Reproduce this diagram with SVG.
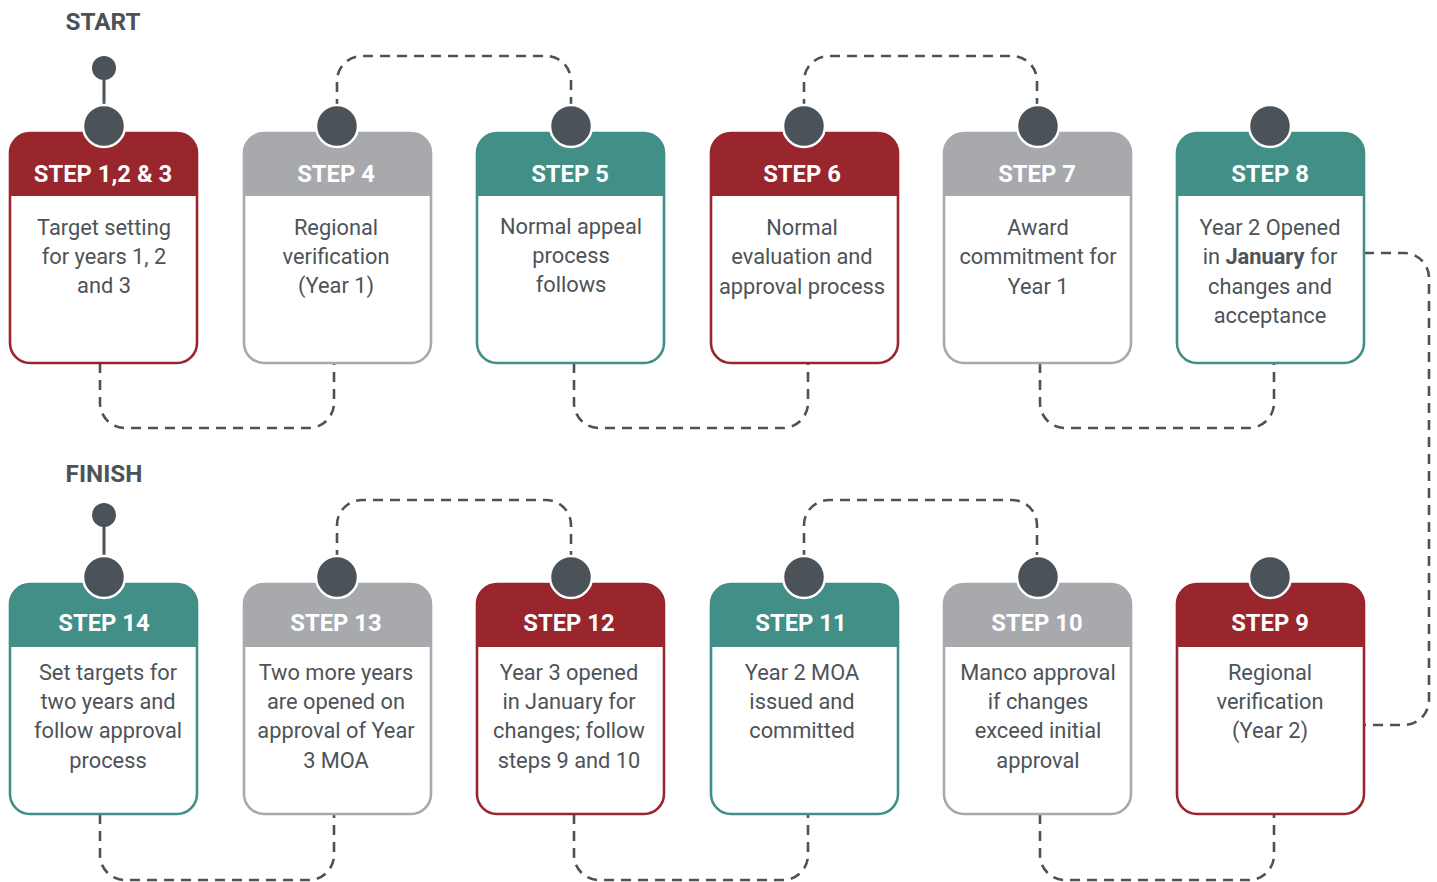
<svg xmlns="http://www.w3.org/2000/svg" width="1437" height="882" viewBox="0 0 1437 882">
<style>
.bg{fill:#ffffff}
.conn{fill:none;stroke:#4b5359;stroke-width:2.6;stroke-dasharray:10 7}
.pin{fill:#4b5359;stroke:#ffffff;stroke-width:2.5}
.dot{fill:#4b5359}
.stem{stroke:#4b5359;stroke-width:3}
.frame{fill:#ffffff;stroke-width:2.6}
.red .frame{stroke:#99252d}.red .hdr{fill:#99252d}
.grey .frame{stroke:#a8a9ac}.grey .hdr{fill:#a8a9ac}
.teal .frame{stroke:#418f86}.teal .hdr{fill:#418f86}
.ht{font-family:Roboto,"Liberation Sans",sans-serif;font-weight:700;font-size:23.8px;fill:#ffffff;text-anchor:middle}
.bt{font-family:Roboto,"Liberation Sans",sans-serif;font-size:21.8px;fill:#4d5358;text-anchor:middle}
.lbl{font-family:Roboto,"Liberation Sans",sans-serif;font-weight:700;font-size:24.3px;fill:#4b5359;text-anchor:middle}
</style>
<rect class="bg" x="0" y="0" width="1437" height="882"/>
<g id="connectors">
<path class="conn" d="M100,363 V403 A25 25 0 0 0 125,428 H309 A25 25 0 0 0 334,403 V363"/>
<path class="conn" d="M337,126 V81 A25 25 0 0 1 362,56 H546 A25 25 0 0 1 571,81 V126"/>
<path class="conn" d="M574,363 V403 A25 25 0 0 0 599,428 H783 A25 25 0 0 0 808,403 V363"/>
<path class="conn" d="M804,126 V81 A25 25 0 0 1 829,56 H1012 A25 25 0 0 1 1037,81 V126"/>
<path class="conn" d="M1040,363 V403 A25 25 0 0 0 1065,428 H1249 A25 25 0 0 0 1274,403 V363"/>
<path class="conn" d="M1364,253 H1404 A25 25 0 0 1 1429,278 V700 A25 25 0 0 1 1404,725 H1364"/>
<path class="conn" d="M100,814 V855 A25 25 0 0 0 125,880 H309 A25 25 0 0 0 334,855 V814"/>
<path class="conn" d="M337,577 V525 A25 25 0 0 1 362,500 H546 A25 25 0 0 1 571,525 V577"/>
<path class="conn" d="M574,814 V855 A25 25 0 0 0 599,880 H783 A25 25 0 0 0 808,855 V814"/>
<path class="conn" d="M804,577 V525 A25 25 0 0 1 829,500 H1012 A25 25 0 0 1 1037,525 V577"/>
<path class="conn" d="M1040,814 V855 A25 25 0 0 0 1065,880 H1249 A25 25 0 0 0 1274,855 V814"/>
</g>
<g id="start">
<text class="lbl" x="103" y="30">START</text>
<line class="stem" x1="104" y1="68" x2="104" y2="110"/>
<circle class="dot" cx="104" cy="68" r="12"/>
</g>
<g id="finish">
<text class="lbl" x="104" y="482">FINISH</text>
<line class="stem" x1="104" y1="515" x2="104" y2="560"/>
<circle class="dot" cx="104" cy="515" r="12"/>
</g>
<g id="step1" class="red">
<rect class="frame" x="10" y="133" width="187" height="230" rx="20"/>
<path class="hdr" d="M10,196 V153 A20 20 0 0 1 30,133 H177 A20 20 0 0 1 197,153 V196 Z"/>
<circle class="pin" cx="104" cy="126" r="21"/>
<text class="ht" x="103" y="182">STEP 1,2 &amp; 3</text>
<text class="bt" x="104" y="235">Target setting</text>
<text class="bt" x="104" y="264">for years 1, 2</text>
<text class="bt" x="104" y="293">and 3</text>
</g>
<g id="step4" class="grey">
<rect class="frame" x="244" y="133" width="187" height="230" rx="20"/>
<path class="hdr" d="M244,196 V153 A20 20 0 0 1 264,133 H411 A20 20 0 0 1 431,153 V196 Z"/>
<circle class="pin" cx="337" cy="126" r="21"/>
<text class="ht" x="336" y="182">STEP 4</text>
<text class="bt" x="336" y="235">Regional</text>
<text class="bt" x="336" y="264">verification</text>
<text class="bt" x="336" y="293">(Year 1)</text>
</g>
<g id="step5" class="teal">
<rect class="frame" x="477" y="133" width="187" height="230" rx="20"/>
<path class="hdr" d="M477,196 V153 A20 20 0 0 1 497,133 H644 A20 20 0 0 1 664,153 V196 Z"/>
<circle class="pin" cx="571" cy="126" r="21"/>
<text class="ht" x="570" y="182">STEP 5</text>
<text class="bt" x="571" y="234">Normal appeal</text>
<text class="bt" x="571" y="263">process</text>
<text class="bt" x="571" y="292">follows</text>
</g>
<g id="step6" class="red">
<rect class="frame" x="711" y="133" width="187" height="230" rx="20"/>
<path class="hdr" d="M711,196 V153 A20 20 0 0 1 731,133 H878 A20 20 0 0 1 898,153 V196 Z"/>
<circle class="pin" cx="804" cy="126" r="21"/>
<text class="ht" x="802" y="182">STEP 6</text>
<text class="bt" x="802" y="235">Normal</text>
<text class="bt" x="802" y="264">evaluation and</text>
<text class="bt" x="802" y="294">approval process</text>
</g>
<g id="step7" class="grey">
<rect class="frame" x="944" y="133" width="187" height="230" rx="20"/>
<path class="hdr" d="M944,196 V153 A20 20 0 0 1 964,133 H1111 A20 20 0 0 1 1131,153 V196 Z"/>
<circle class="pin" cx="1038" cy="126" r="21"/>
<text class="ht" x="1037" y="182">STEP 7</text>
<text class="bt" x="1038" y="235">Award</text>
<text class="bt" x="1038" y="264">commitment for</text>
<text class="bt" x="1038" y="294">Year 1</text>
</g>
<g id="step8" class="teal">
<rect class="frame" x="1177" y="133" width="187" height="230" rx="20"/>
<path class="hdr" d="M1177,196 V153 A20 20 0 0 1 1197,133 H1344 A20 20 0 0 1 1364,153 V196 Z"/>
<circle class="pin" cx="1270" cy="126" r="21"/>
<text class="ht" x="1270" y="182">STEP 8</text>
<text class="bt" x="1270" y="235">Year 2 Opened</text>
<text class="bt" x="1270" y="264">in <tspan font-weight="700">January</tspan> for</text>
<text class="bt" x="1270" y="294">changes and</text>
<text class="bt" x="1270" y="323">acceptance</text>
</g>
<g id="step14" class="teal">
<rect class="frame" x="10" y="584" width="187" height="230" rx="20"/>
<path class="hdr" d="M10,647 V604 A20 20 0 0 1 30,584 H177 A20 20 0 0 1 197,604 V647 Z"/>
<circle class="pin" cx="104" cy="577" r="21"/>
<text class="ht" x="104" y="631">STEP 14</text>
<text class="bt" x="108" y="680">Set targets for</text>
<text class="bt" x="108" y="709">two years and</text>
<text class="bt" x="108" y="738">follow approval</text>
<text class="bt" x="108" y="768">process</text>
</g>
<g id="step13" class="grey">
<rect class="frame" x="244" y="584" width="187" height="230" rx="20"/>
<path class="hdr" d="M244,647 V604 A20 20 0 0 1 264,584 H411 A20 20 0 0 1 431,604 V647 Z"/>
<circle class="pin" cx="337" cy="577" r="21"/>
<text class="ht" x="336" y="631">STEP 13</text>
<text class="bt" x="336" y="680">Two more years</text>
<text class="bt" x="336" y="709">are opened on</text>
<text class="bt" x="336" y="738">approval of Year</text>
<text class="bt" x="336" y="768">3 MOA</text>
</g>
<g id="step12" class="red">
<rect class="frame" x="477" y="584" width="187" height="230" rx="20"/>
<path class="hdr" d="M477,647 V604 A20 20 0 0 1 497,584 H644 A20 20 0 0 1 664,604 V647 Z"/>
<circle class="pin" cx="571" cy="577" r="21"/>
<text class="ht" x="569" y="631">STEP 12</text>
<text class="bt" x="569" y="680">Year 3 opened</text>
<text class="bt" x="569" y="709">in January for</text>
<text class="bt" x="569" y="738">changes; follow</text>
<text class="bt" x="569" y="768">steps 9 and 10</text>
</g>
<g id="step11" class="teal">
<rect class="frame" x="711" y="584" width="187" height="230" rx="20"/>
<path class="hdr" d="M711,647 V604 A20 20 0 0 1 731,584 H878 A20 20 0 0 1 898,604 V647 Z"/>
<circle class="pin" cx="804" cy="577" r="21"/>
<text class="ht" x="801" y="631">STEP 11</text>
<text class="bt" x="802" y="680">Year 2 MOA</text>
<text class="bt" x="802" y="709">issued and</text>
<text class="bt" x="802" y="738">committed</text>
</g>
<g id="step10" class="grey">
<rect class="frame" x="944" y="584" width="187" height="230" rx="20"/>
<path class="hdr" d="M944,647 V604 A20 20 0 0 1 964,584 H1111 A20 20 0 0 1 1131,604 V647 Z"/>
<circle class="pin" cx="1038" cy="577" r="21"/>
<text class="ht" x="1037" y="631">STEP 10</text>
<text class="bt" x="1038" y="680">Manco approval</text>
<text class="bt" x="1038" y="709">if changes</text>
<text class="bt" x="1038" y="738">exceed initial</text>
<text class="bt" x="1038" y="768">approval</text>
</g>
<g id="step9" class="red">
<rect class="frame" x="1177" y="584" width="187" height="230" rx="20"/>
<path class="hdr" d="M1177,647 V604 A20 20 0 0 1 1197,584 H1344 A20 20 0 0 1 1364,604 V647 Z"/>
<circle class="pin" cx="1270" cy="577" r="21"/>
<text class="ht" x="1270" y="631">STEP 9</text>
<text class="bt" x="1270" y="680">Regional</text>
<text class="bt" x="1270" y="709">verification</text>
<text class="bt" x="1270" y="738">(Year 2)</text>
</g>
</svg>
